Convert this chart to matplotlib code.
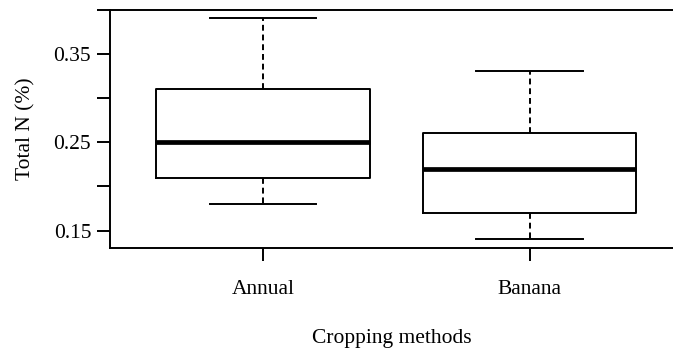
import matplotlib.pyplot as plt

plt.rcParams["font.family"] = ["Liberation Serif", "DejaVu Serif"]

categories = ["Annual", "Banana"]
whislo = [0.18, 0.14]
q1 = [0.21, 0.17]
med = [0.25, 0.22]
q3 = [0.31, 0.26]
whishi = [0.39, 0.33]

major_ticks = [0.15, 0.25, 0.35]
major_labels = ["0.15", "0.25", "0.35"]
minor_ticks = [0.20, 0.30, 0.40]

stats = [
    dict(label=c, whislo=lo, q1=a, med=m, q3=b, whishi=hi, fliers=[])
    for c, lo, a, m, b, hi in zip(categories, whislo, q1, med, q3, whishi)
]

fig = plt.figure(figsize=(6.73, 3.48), dpi=100)
ax = fig.add_axes([110 / 673, 99.7 / 348, 1 - 110 / 673, 238.8 / 348])

lw = 1.4
ax.bxp(stats, positions=[1, 2], widths=0.8, showfliers=False,
       boxprops=dict(color="black", linewidth=lw),
       whiskerprops=dict(color="black", linewidth=lw, linestyle=(0, (3, 2))),
       capprops=dict(color="black", linewidth=lw),
       medianprops=dict(color="black", linewidth=3.4),
       capwidths=0.4)

ax.set_xlim(0.426, 2.537)
ax.set_ylim(0.13, 0.40)

fs = 15.5
ax.set_yticks(major_ticks)
ax.set_yticklabels(major_labels)
ax.set_yticks(minor_ticks, minor=True)
ax.tick_params(axis="y", which="both", length=9.5, width=lw, labelsize=fs, pad=4)
ax.tick_params(axis="x", length=9.5, width=lw, labelsize=fs, pad=13)

ax.spines["right"].set_visible(False)
for s in ["left", "top", "bottom"]:
    ax.spines[s].set_linewidth(lw)

ax.set_xlabel("Cropping methods", fontsize=fs, labelpad=22)
ax.set_ylabel("Total N (%)", fontsize=fs, labelpad=13)

fig.savefig("out.png", dpi=100)
